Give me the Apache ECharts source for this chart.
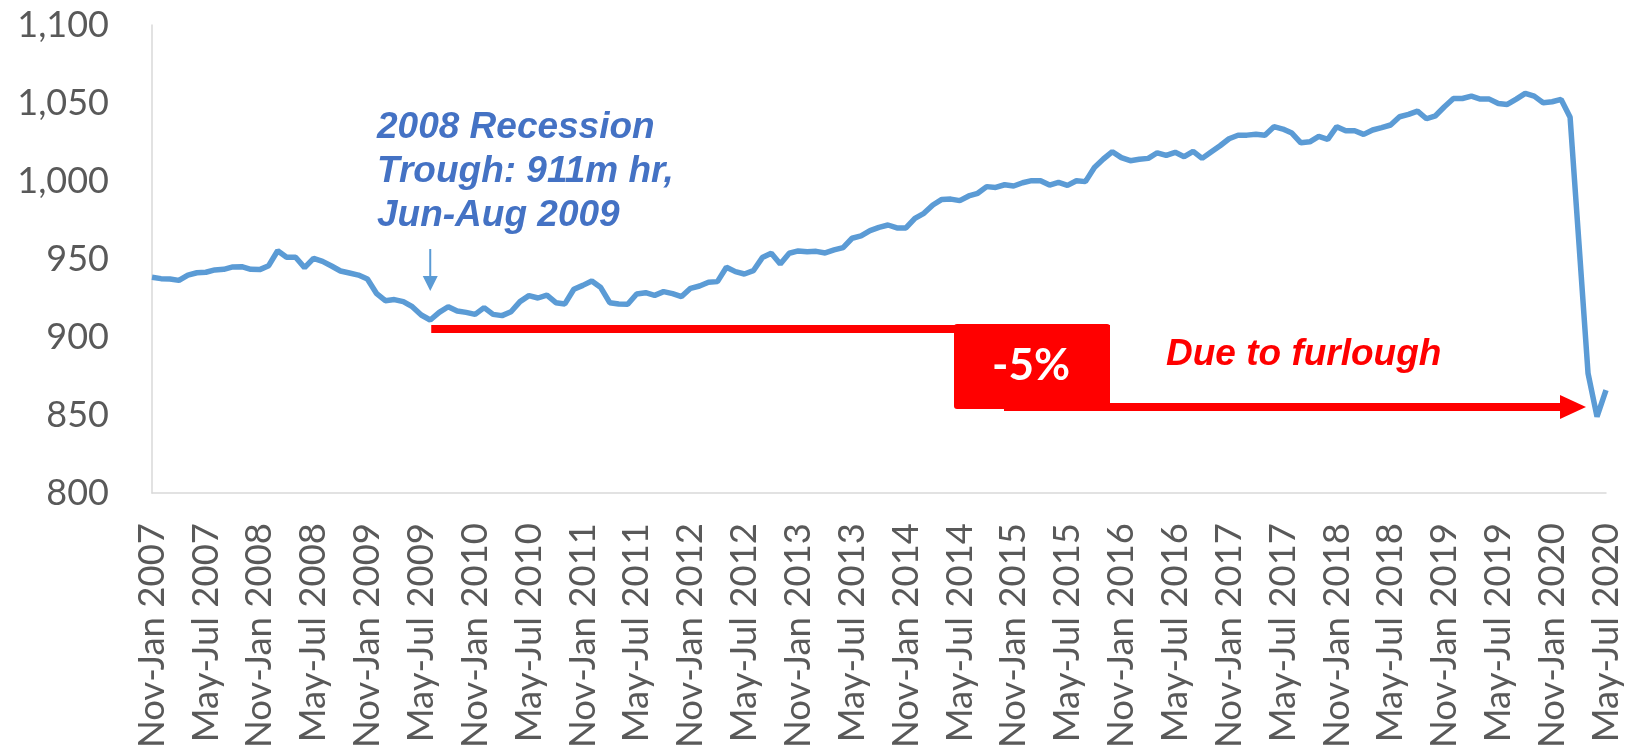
<!DOCTYPE html>
<html>
<head>
<meta charset="utf-8">
<script src="https://cdn.jsdelivr.net/npm/echarts@6/dist/echarts.min.js"></script>
<style>
html, body { margin: 0; padding: 0; background: #fff; }
#chart { width: 1640px; height: 754px; }
</style>
</head>
<body>
<div id="chart"></div>
<script>
// rolling 3-month periods, first one is Nov 2006 - Jan 2007
const monthNames = ['Jan', 'Feb', 'Mar', 'Apr', 'May', 'Jun', 'Jul', 'Aug', 'Sep', 'Oct', 'Nov', 'Dec'];
const firstPeriodStart = 2006 * 12 + 10;

// total weekly hours worked, millions
const hours = [
    938.3, 937.4, 937.2, 936.3, 939.7, 941.2, 941.5, 943.0, 943.4, 944.9, 945.1, 943.4,
    943.2, 945.7, 955.3, 951.1, 951.1, 944.5, 950.4, 948.5, 945.5, 942.3, 941.0, 939.7,
    937.2, 928.0, 923.3, 924.0, 922.7, 919.4, 914.1, 910.9, 915.8, 919.4, 916.7, 915.8,
    914.5, 918.8, 914.5, 913.7, 916.2, 922.7, 926.5, 925.0, 926.8, 922.0, 921.2, 930.6,
    933.1, 935.9, 931.7, 922.0, 921.2, 921.0, 927.6, 928.4, 926.7, 929.1, 927.8, 925.9,
    931.2, 932.7, 935.1, 935.5, 944.7, 941.9, 940.4, 942.5, 950.9, 953.7, 946.8, 953.7,
    955.2, 954.7, 954.9, 953.9, 955.8, 957.3, 963.3, 964.8, 968.2, 970.3, 971.8, 969.9,
    969.9, 976.1, 979.3, 984.6, 988.2, 988.4, 987.4, 990.4, 992.1, 996.4, 995.9, 997.6,
    996.8, 998.9, 1000.2, 1000.2, 997.4, 999.1, 997.2, 1000.2, 999.6, 1008.7, 1014.1, 1018.8,
    1015.0, 1013.0, 1013.9, 1014.5, 1018.1, 1016.4, 1018.4, 1015.6, 1019.0, 1014.5, 1018.6, 1022.6,
    1027.1, 1029.3, 1029.4, 1030.0, 1029.3, 1034.8, 1033.3, 1030.7, 1024.5, 1025.1, 1028.6, 1026.7,
    1034.8, 1032.2, 1032.2, 1029.9, 1032.7, 1034.2, 1035.9, 1041.2, 1042.7, 1044.8, 1039.9, 1041.8,
    1047.6, 1052.9, 1052.9, 1054.4, 1052.5, 1052.5, 1049.7, 1049.1, 1052.5, 1056.2, 1054.4, 1050.2,
    1050.8, 1052.3, 1040.8, 959.0, 876.7, 848.9, 866.0
];

const categories = hours.map((_, i) => {
    const s = firstPeriodStart + i;
    const e = s + 2;
    return monthNames[s % 12] + '-' + monthNames[e % 12] + ' ' + Math.floor(e / 12);
});

const yMin = 800;
const yMax = 1100;
const yStep = 50;
const troughIndex = 31;

const axisGrey = '#D9D9D9';
const labelGrey = '#595959';
const lineBlue = '#5B9BD5';
const textBlue = '#4472C4';
const red = '#FF0000';

const chart = echarts.init(document.getElementById('chart'));
chart.setOption({
    animation: false,
    grid: { left: 152, right: 34, top: 25, bottom: 261 },
    xAxis: {
        type: 'category',
        data: categories,
        boundaryGap: false,
        axisLine: { lineStyle: { color: axisGrey, width: 1.5 } },
        axisTick: { show: false },
        axisLabel: {
            interval: 5,
            rotate: 90,
            margin: 30,
            color: labelGrey,
            fontFamily: 'Lato',
            fontSize: 36.5
        },
        splitLine: { show: false }
    },
    yAxis: {
        type: 'value',
        min: yMin,
        max: yMax,
        interval: yStep,
        axisLine: { show: true, lineStyle: { color: axisGrey, width: 1.5 } },
        axisTick: { show: false },
        splitLine: { show: false },
        axisLabel: {
            margin: 43,
            color: labelGrey,
            fontFamily: 'Lato',
            fontSize: 36,
            formatter: v => v.toLocaleString('en-US')
        }
    },
    series: [
        {
            type: 'line',
            data: hours,
            symbol: 'none',
            lineStyle: { color: lineBlue, width: 5.5 }
        }
    ]
});

// annotations, anchored on the 2009 trough
const tp = chart.convertToPixel({ gridIndex: 0 }, [troughIndex, hours[troughIndex]]);
chart.setOption({
    graphic: [
        {
            type: 'text',
            x: 377,
            y: 171.5,
            style: {
                text: '2008 Recession\nTrough: 911m hr,\nJun-Aug 2009',
                fontFamily: 'Liberation Sans',
                fontWeight: 'bold',
                fontStyle: 'italic',
                fontSize: 37,
                lineHeight: 44,
                fill: textBlue,
                textVerticalAlign: 'middle'
            }
        },
        {
            type: 'line',
            shape: { x1: tp[0], y1: tp[1] - 71, x2: tp[0], y2: tp[1] - 42 },
            style: { stroke: lineBlue, lineWidth: 2 }
        },
        {
            type: 'polygon',
            shape: { points: [[tp[0] - 7.5, tp[1] - 44], [tp[0] + 7.5, tp[1] - 44], [tp[0], tp[1] - 29]] },
            style: { fill: lineBlue }
        },
        {
            type: 'rect',
            shape: { x: tp[0] + 1, y: 325, width: 1110 - tp[0] - 1, height: 8 },
            style: { fill: red }
        },
        {
            type: 'rect',
            shape: { x: 954, y: 324, width: 156, height: 85, r: 3 },
            style: { fill: red }
        },
        {
            type: 'rect',
            shape: { x: 1004, y: 403, width: 558, height: 8 },
            style: { fill: red }
        },
        {
            type: 'polygon',
            shape: { points: [[1560, 395], [1586, 407], [1560, 419]] },
            style: { fill: red }
        },
        {
            type: 'text',
            x: 1031,
            y: 366,
            style: {
                text: '-5%',
                fontFamily: 'Lato',
                fontWeight: 'bold',
                fontSize: 44,
                fill: '#fff',
                textAlign: 'center',
                textVerticalAlign: 'middle'
            }
        },
        {
            type: 'text',
            x: 1166,
            y: 355,
            style: {
                text: 'Due to furlough',
                fontFamily: 'Liberation Sans',
                fontWeight: 'bold',
                fontStyle: 'italic',
                fontSize: 37,
                fill: red,
                textVerticalAlign: 'middle'
            }
        }
    ]
});
</script>
</body>
</html>
